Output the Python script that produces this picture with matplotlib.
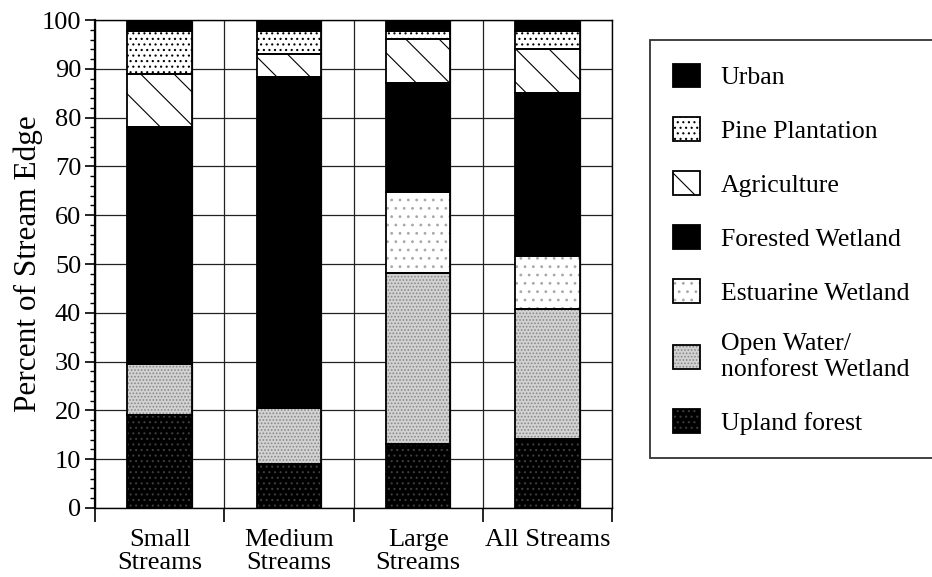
import numpy as np
import matplotlib.pyplot as plt
from matplotlib.patches import Patch

plt.rcParams['font.family'] = ['Liberation Serif', 'DejaVu Serif']
plt.rcParams['hatch.linewidth'] = 0.8

# stream classes and land cover percentages (bottom to top)
categories = ["Small\nStreams", "Medium\nStreams", "Large\nStreams", "All Streams"]
upland = [19.0, 9.0, 13.1, 14.1]
open_water = [10.5, 11.5, 35.1, 26.7]
estuarine = [0.0, 0.0, 16.6, 10.8]
forested = [48.5, 67.8, 22.3, 33.4]
agriculture = [11.0, 4.7, 9.0, 9.1]
pine = [8.7, 4.7, 1.6, 3.6]
urban = [2.3, 2.3, 2.3, 2.3]

layer_names = ["Upland forest", "Open Water/\nnonforest Wetland", "Estuarine Wetland",
               "Forested Wetland", "Agriculture", "Pine Plantation", "Urban"]
layers = [upland, open_water, estuarine, forested, agriculture, pine, urban]

# face colour, hatch, hatch colour
styles = [
    ("black", "...", "#3c3c3c"),
    ("#d2d2d2", ".....", "#888888"),
    ("white", "..", "#a8a8a8"),
    ("black", None, "black"),
    ("white", "\\", "black"),
    ("white", "...", "black"),
    ("black", None, "black"),
]

fig = plt.figure(figsize=(9.32, 5.77), dpi=100)
ax = fig.add_axes([0.102, 0.1196, 0.5547, 0.8457])

x = np.arange(len(categories)) + 0.5
bottom = np.zeros(len(categories))
handles = []
for vals, name, (fc, hatch, hc) in zip(layers, layer_names, styles):
    vals = np.array(vals)
    ax.bar(x, vals, 0.5, bottom=bottom, color=fc, hatch=hatch, edgecolor=hc,
           linewidth=0, zorder=3)
    ax.bar(x, vals, 0.5, bottom=bottom, fill=False, edgecolor="black",
           linewidth=1.3, zorder=4)
    bottom += vals
    handles.append((Patch(facecolor=fc, hatch=hatch, edgecolor=hc, linewidth=0),
                    Patch(fill=False, edgecolor="black", linewidth=1.3)))

# background grid
for gx in np.arange(0, 4.01, 0.25):
    ax.axvline(gx, color="#222222", lw=0.9, zorder=1)
for gy in range(0, 101, 10):
    ax.axhline(gy, color="#222222", lw=0.9, zorder=1)

ax.set_xlim(0, 4)
ax.set_ylim(0, 100)

ax.set_xticks(range(5))
ax.set_xticklabels([])
ax.set_xticks(x, minor=True)
ax.set_xticklabels(categories, minor=True, fontsize=19, va="top", linespacing=1.05)
ax.tick_params(axis="x", which="major", direction="out", length=10, width=1.2)
ax.tick_params(axis="x", which="minor", length=0, pad=15)

ax.set_yticks(range(0, 101, 10))
ax.set_yticks(range(0, 101, 2), minor=True)
ax.tick_params(axis="y", which="major", direction="out", length=7, width=1.2,
               labelsize=19, pad=3)
ax.tick_params(axis="y", which="minor", direction="out", length=3.5, width=1.0)
ax.set_ylabel("Percent of Stream Edge", fontsize=22.5, labelpad=-1)

for s in ax.spines.values():
    s.set_linewidth(1.0)
ax.spines["left"].set_linewidth(1.6)

leg = fig.legend(handles[::-1], layer_names[::-1], loc="upper left",
                 bbox_to_anchor=(0.6974, 0.17, 0.32, 0.76), mode="expand",
                 fontsize=18.5, frameon=True, fancybox=False, edgecolor="black",
                 handlelength=1.05, handleheight=1.05, handletextpad=0.8,
                 labelspacing=1.1, borderpad=0.9, borderaxespad=0)
leg.get_frame().set_linewidth(1.3)

fig.savefig("out.png", dpi=100)
